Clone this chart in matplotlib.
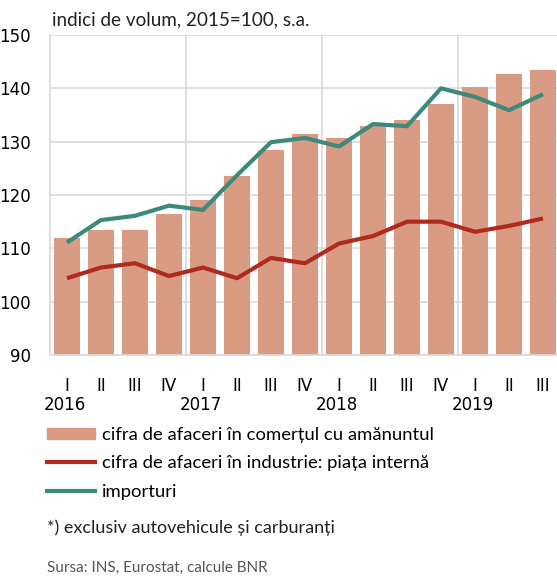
import matplotlib
matplotlib.use("Agg")
import matplotlib.pyplot as plt
from matplotlib.patches import Patch
from matplotlib.lines import Line2D
import numpy as np

plt.rcParams['font.family'] = ['Lato', 'DejaVu Sans']

# Quarterly data, 2016 Q1 - 2019 Q3
quarters = ["I", "II", "III", "IV", "I", "II", "III", "IV",
            "I", "II", "III", "IV", "I", "II", "III"]
years = ["2016", "2017", "2018", "2019"]
retail = [111.9, 113.4, 113.4, 116.4, 119.1, 123.6, 128.4, 131.4,
          130.6, 132.9, 134.1, 137.1, 140.3, 142.7, 143.4]
industry = [104.4, 106.4, 107.2, 104.8, 106.4, 104.4, 108.2, 107.2,
            110.9, 112.3, 115.0, 115.0, 113.1, 114.2, 115.6]
imports = [111.1, 115.3, 116.1, 118.0, 117.2, 123.7, 129.9, 130.7,
           129.1, 133.3, 132.9, 140.0, 138.4, 135.9, 138.9]

bar_color = "#D99B84"
red = "#B02A1E"
teal = "#3D8A7B"
grid_color = "#D9D9D9"
tick_font = ['Liberation Sans Narrow', 'DejaVu Sans']

fig = plt.figure(figsize=(5.57, 5.77), dpi=100)
ax = fig.add_axes([50 / 557, 1 - 355 / 577, 510 / 557, 320 / 577])

x = np.arange(len(quarters))
ax.bar(x, retail, width=0.74, color=bar_color, zorder=2)
ax.plot(x, industry, color=red, lw=3, zorder=3, solid_capstyle='butt')
ax.plot(x, imports, color=teal, lw=3, zorder=3, solid_capstyle='butt')

ax.set_xlim(-0.5, len(quarters) - 0.5)
ax.set_ylim(90, 150)
ax.set_yticks(range(90, 151, 10))
ax.set_xticks(x)
ax.set_xticklabels(quarters)
ax.set_xticks([3.5, 7.5, 11.5], minor=True)
ax.tick_params(axis='both', which='both', length=0)
ax.tick_params(axis='x', pad=16)
ax.tick_params(axis='y', pad=14)
for lab in ax.get_xticklabels() + ax.get_yticklabels():
    lab.set_family(tick_font)
    lab.set_fontsize(12)

ax.grid(axis='y', color=grid_color, lw=1.2, zorder=0)
ax.grid(axis='x', which='minor', color=grid_color, lw=1.2, zorder=0)
ax.grid(axis='x', which='major', visible=False)
for side in ['top', 'right']:
    ax.spines[side].set_visible(False)
for side in ['left', 'bottom']:
    ax.spines[side].set_color(grid_color)
    ax.spines[side].set_linewidth(1.2)

for i, yr in enumerate(years):
    ax.text(i * 4 - 0.05, -0.156, yr, transform=ax.get_xaxis_transform(),
            ha='center', va='center', fontsize=12, family=tick_font)

fig.text(52 / 557, 1 - 20 / 577, "indici de volum, 2015=100, s.a.",
         fontsize=13.6, va='center', ha='left', color="#222222")

handles = [Patch(color=bar_color), Line2D([], [], color=red, lw=3),
           Line2D([], [], color=teal, lw=3)]
labels = ["cifra de afaceri în comerțul cu amănuntul",
          "cifra de afaceri în industrie: piața internă",
          "importuri"]
fig.legend(handles, labels, loc='upper left', bbox_to_anchor=(47 / 557, 1 - 427 / 577),
           frameon=False, fontsize=13.3, handlelength=2.6, handleheight=0.6,
           handletextpad=0.4, labelspacing=0.67, borderpad=0, borderaxespad=0)

fig.text(47 / 557, 1 - 528 / 577, "*) exclusiv autovehicule și carburanți",
         fontsize=13, va='center', ha='left', color="#222222")
fig.text(47 / 557, 1 - 568 / 577, "Sursa: INS, Eurostat, calcule BNR",
         fontsize=11, va='center', ha='left', color="#555555")

fig.savefig("out.png", dpi=100)
